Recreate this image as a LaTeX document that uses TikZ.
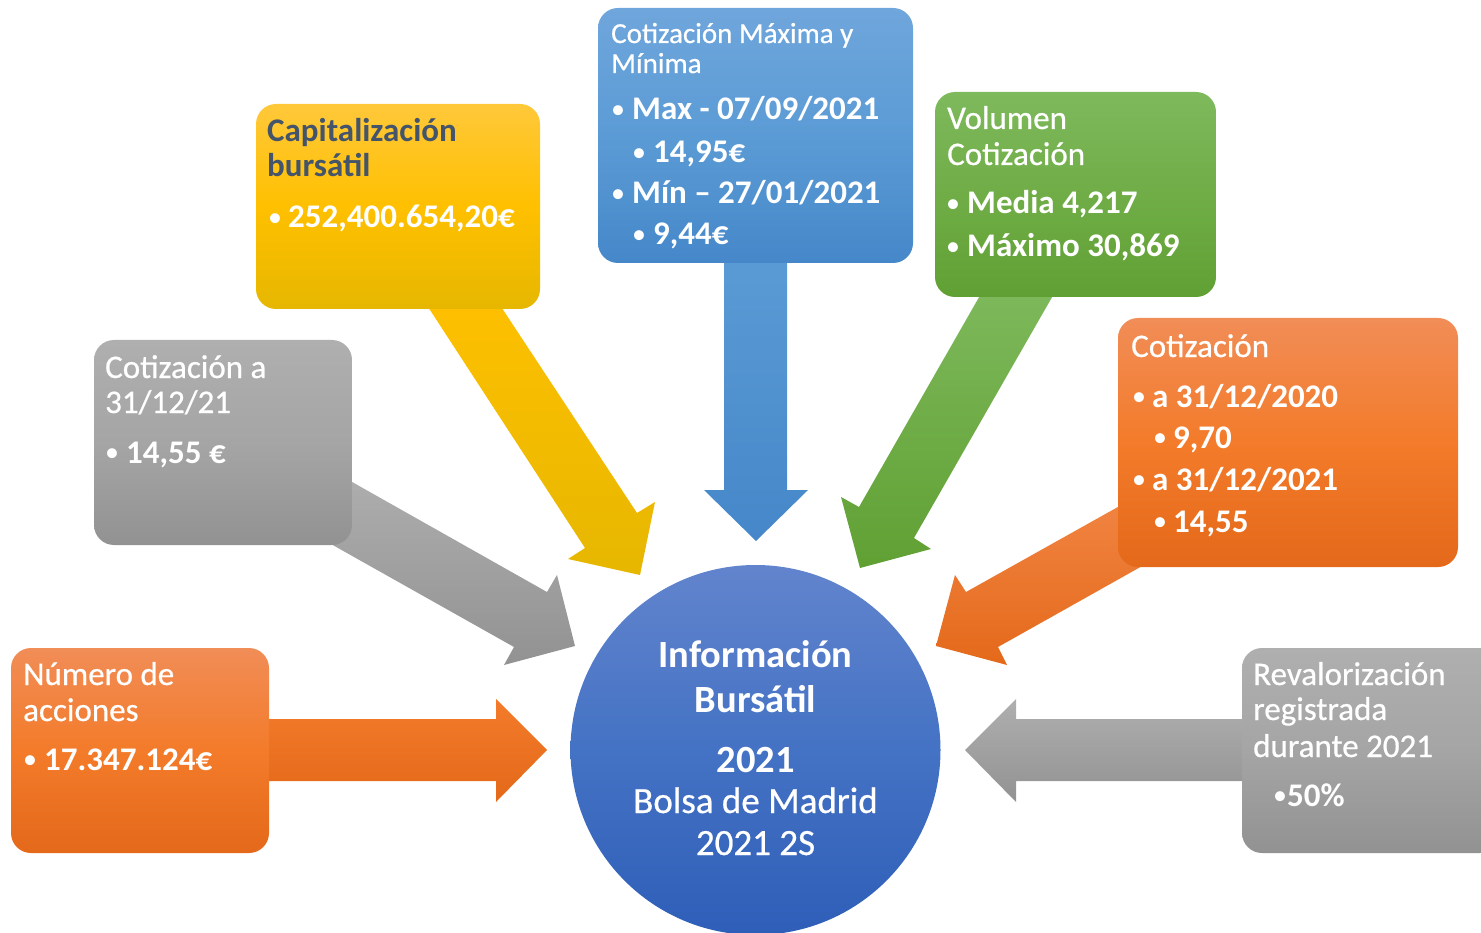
\documentclass[tikz,border=0pt]{standalone}
\usepackage{fontspec}
\setmainfont{Carlito}
\newfontfamily\carsemi[FakeBold=0.6]{Carlito}
\definecolor{ylT}{HTML}{FFC83A}\definecolor{ylM}{HTML}{FFC000}\definecolor{ylB}{HTML}{E6B700}
\definecolor{buT}{HTML}{6FA6DC}\definecolor{buM}{HTML}{5B9BD5}\definecolor{buB}{HTML}{4587C9}
\definecolor{grT}{HTML}{7EB95C}\definecolor{grM}{HTML}{70AD47}\definecolor{grB}{HTML}{60A033}
\definecolor{orT}{HTML}{F18D57}\definecolor{orM}{HTML}{F37B2A}\definecolor{orB}{HTML}{E4691A}
\definecolor{gyT}{HTML}{AFAFAF}\definecolor{gyM}{HTML}{A5A5A5}\definecolor{gyB}{HTML}{929292}
\definecolor{ciT}{HTML}{6284CD}\definecolor{ciM}{HTML}{4472C4}\definecolor{ciB}{HTML}{2E5EB8}
\definecolor{slate}{HTML}{44546A}
\begin{document}
\begin{tikzpicture}[x=1pt,y=-1pt,
  bx/.style={rounded corners=20pt, inner sep=0pt, outer sep=0pt},
  yel/.style={top color=ylT, bottom color=ylB, middle color=ylM},
  blu/.style={top color=buT, bottom color=buB, middle color=buM},
  grn/.style={top color=grT, bottom color=grB, middle color=grM},
  org/.style={top color=orT, bottom color=orB, middle color=orM},
  gry/.style={top color=gyT, bottom color=gyB, middle color=gyM},
  ttl/.style={anchor=base west, inner sep=0pt, text=white, font=\carsemi\fontsize{33}{40}\selectfont},
  bt/.style={anchor=base west, inner sep=0pt, text=white, font=\bfseries\fontsize{33}{40}\selectfont},
  dt/.style={anchor=base, inner sep=0pt, text=white, font=\fontsize{28}{34}\selectfont, yshift=1.5pt},
  ctb/.style={anchor=base, inner sep=0pt, text=white, font=\bfseries\fontsize{38.5}{46}\selectfont},
  ctr/.style={anchor=base, inner sep=0pt, text=white, font=\carsemi\fontsize{37}{44}\selectfont}]
\useasboundingbox (0,0) rectangle (1481,933);

% ---- block arrows ----
\path[top color=ylM, bottom color=ylB] (417,290) -- (585,548) -- (568,559) -- (640,575) -- (655,502) -- (637,513) -- (490,290) -- cycle;
\path[top color=gyT, bottom color=gyB] (322,465) -- (547,592) -- (557,575) -- (575,646) -- (504,665) -- (514,647) -- (322,539) -- cycle;
\path[top color=buM, bottom color=buB] (724,250) -- (724,490) -- (704,490) -- (756,541) -- (808,490) -- (787,490) -- (787,250) -- cycle;
\path[top color=grT, bottom color=grB] (986,285) -- (859,507) -- (841,497) -- (860,568) -- (931,549) -- (914,538) -- (1059,285) -- cycle;
\path[top color=orT!60!orM, bottom color=orB] (1150,489) -- (966,592) -- (955,575) -- (936,646) -- (1007,665) -- (998,647) -- (1160,556) -- cycle;
\path[top color=gyT, bottom color=gyB] (1260,719) -- (1016,719) -- (1016,699) -- (965,750) -- (1016,802) -- (1016,781) -- (1260,781) -- cycle;
\path[top color=orM, bottom color=orB] (250,719) -- (496,719) -- (496,699) -- (547,750) -- (496,802) -- (496,781) -- (250,781) -- cycle;

% ---- boxes ----
\node[bx, yel, minimum width=284pt, minimum height=205pt] (cap) at (398,206.5) {};
\node[bx, blu, minimum width=315pt, minimum height=255pt] (mm) at (755.5,135.5) {};
\node[bx, grn, minimum width=281pt, minimum height=205pt] (vol) at (1075.5,194.5) {};
\node[bx, org, minimum width=340pt, minimum height=249pt] (cotR) at (1288,442.5) {};
\node[bx, gry, minimum width=258pt, minimum height=205pt] (rev) at (1371,750.5) {};
\node[bx, gry, minimum width=258pt, minimum height=205pt] (cotL) at (223,442.5) {};
\node[bx, org, minimum width=258pt, minimum height=205pt] (num) at (140,750.5) {};

% ---- circle ----
\node[circle, minimum size=370pt, inner sep=0pt, top color=ciT, bottom color=ciB, middle color=ciM] (info) at (755.5,750) {};

% ---- texts: Capitalizacion ----
\node[bt, text=slate] (capT1) at (267,142) {Capitalización};
\node[bt, text=slate] (capT2) at (267,177) {bursátil};
\node[dt] (capD1) at (275,228) {•};
\node[bt] (capB1) at (288,228) {252,400.654,20€};

% ---- Cotizacion Maxima y Minima ----
\node[ttl, font=\carsemi\fontsize{29}{35}\selectfont] (mmT1) at (611,43) {Cotización Máxima y};
\node[ttl, font=\carsemi\fontsize{29}{35}\selectfont] (mmT2) at (611,73) {Mínima};
\node[dt] (mmD1) at (618,120) {•};
\node[bt] (mmB1) at (632,120) {Max - 07/09/2021};
\node[dt] (mmD2) at (639,163) {•};
\node[bt] (mmB2) at (653,163) {14,95€};
\node[dt] (mmD3) at (618,204) {•};
\node[bt] (mmB3) at (632,204) {Mín – 27/01/2021};
\node[dt] (mmD4) at (639,245) {•};
\node[bt] (mmB4) at (653,245) {9,44€};

% ---- Volumen Cotizacion ----
\node[ttl] (volT1) at (947,129) {Volumen};
\node[ttl] (volT2) at (947,165) {Cotización};
\node[dt] (volD1) at (953,214) {•};
\node[bt] (volB1) at (967,214) {Media 4,217};
\node[dt] (volD2) at (953,257) {•};
\node[bt] (volB2) at (967,257) {Máximo 30,869};

% ---- Cotizacion (right) ----
\node[ttl] (crT1) at (1131,357) {Cotización};
\node[dt] (crD1) at (1139,407) {•};
\node[bt] (crB1) at (1152,407) {a 31/12/2020};
\node[dt] (crD2) at (1160,448) {•};
\node[bt] (crB2) at (1173,448) {9,70};
\node[dt] (crD3) at (1139,490) {•};
\node[bt] (crB3) at (1152,490) {a 31/12/2021};
\node[dt] (crD4) at (1160,532) {•};
\node[bt] (crB4) at (1173,532) {14,55};

% ---- Revalorizacion ----
\node[ttl] (rvT1) at (1253,685) {Revalorización};
\node[ttl] (rvT2) at (1253,720) {registrada};
\node[ttl] (rvT3) at (1253,757) {durante 2021};
\node[dt] (rvD1) at (1280,806) {•};
\node[bt] (rvB1) at (1287,806) {50\%};

% ---- Cotizacion a 31/12/21 ----
\node[ttl] (clT1) at (105,378) {Cotización a};
\node[ttl] (clT2) at (105,413) {31/12/21};
\node[dt] (clD1) at (112,463) {•};
\node[bt] (clB1) at (126,463) {14,55 €};

% ---- Numero de acciones ----
\node[ttl] (nuT1) at (23,685) {Número de};
\node[ttl] (nuT2) at (23,721) {acciones};
\node[dt] (nuD1) at (30,770) {•};
\node[bt] (nuB1) at (44,770) {17.347.124€};

% ---- circle text ----
\node[ctb] (ciT1) at (755.5,667) {Información};
\node[ctb] (ciT2) at (755.5,712) {Bursátil};
\node[ctb] (ciT3) at (755.5,772) {2021};
\node[ctr] (ciT4) at (755.5,813) {Bolsa de Madrid};
\node[ctr] (ciT5) at (755.5,855) {2021 2S};
\end{tikzpicture}
\end{document}
